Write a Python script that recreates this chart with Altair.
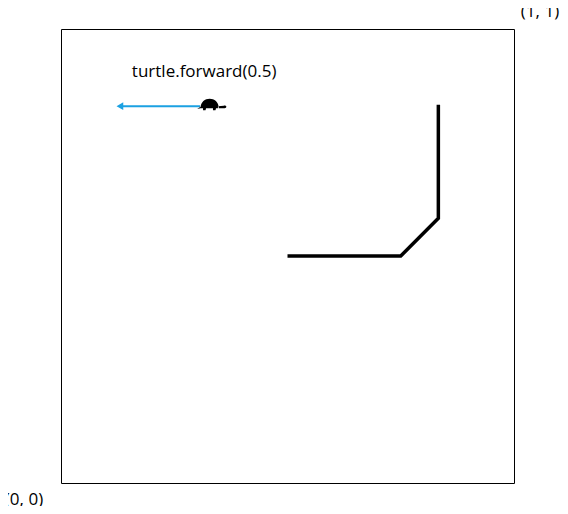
import altair as alt
import pandas as pd

# turtle path in unit coordinates
path_x = [0.5, 0.75, 0.833, 0.833]
path_y = [0.5, 0.5, 0.583, 0.833]

arrow_x = [0.307, 0.13]
arrow_y = [0.83, 0.83]

turtle_x = [0.33]
turtle_y = [0.833]

label_text = ["turtle.forward(0.5)"]
label_x = [0.316]
label_y = [0.905]

corner_text = ["(0, 0)", "(1, 1)"]
corner_x = [0, 1]
corner_y = [0, 1]
corner_dx = [-37, 26]
corner_dy = [17, -17]

FONT = "Open Sans"

sx = alt.Scale(domain=[0, 1])
sy = alt.Scale(domain=[0, 1])
X = lambda f: alt.X(f, scale=sx, axis=None)
Y = lambda f: alt.Y(f, scale=sy, axis=None)

path_df = pd.DataFrame({"x": path_x, "y": path_y, "o": range(len(path_x))})
line = alt.Chart(path_df).mark_line(color="black", strokeWidth=3.5, clip=False).encode(
    x=X("x:Q"), y=Y("y:Q"), order="o:O")

arrow_df = pd.DataFrame({"x": arrow_x, "y": arrow_y})
arrow = alt.Chart(arrow_df).mark_line(color="#1ba1e2", strokeWidth=2).encode(
    x=X("x:Q"), y=Y("y:Q"))
head = alt.Chart(arrow_df.iloc[[1]]).mark_point(
    shape="triangle-left", filled=True, color="#1ba1e2", size=60, opacity=1).encode(
    x=X("x:Q"), y=Y("y:Q"))

turtle_shape = ("M -0.6 0.2 C -0.6 -0.55 0.5 -0.55 0.5 0.2 Z "
                "M 0.45 0.2 L 0.85 0.2 C 1.0 0.2 1.0 0.02 0.8 0.05 L 0.45 0.08 Z "
                "M -0.45 0.15 L -0.25 0.15 L -0.3 0.32 L -0.45 0.32 Z "
                "M 0.15 0.15 L 0.35 0.15 L 0.3 0.32 L 0.15 0.32 Z "
                "M -0.6 0.12 L -0.8 0.25 L -0.6 0.2 Z")
turtle_df = pd.DataFrame({"x": turtle_x, "y": turtle_y})
turtle = alt.Chart(turtle_df).mark_point(
    shape=turtle_shape, filled=True, color="black", size=1100, opacity=1).encode(
    x=X("x:Q"), y=Y("y:Q"))

label_df = pd.DataFrame({"t": label_text, "x": label_x, "y": label_y})
label = alt.Chart(label_df).mark_text(font=FONT, fontSize=17, color="black").encode(
    x=X("x:Q"), y=Y("y:Q"), text="t:N")

corner_df = pd.DataFrame({"t": corner_text, "x": corner_x, "y": corner_y})
corners = alt.layer(*[
    alt.Chart(corner_df.iloc[[i]]).mark_text(
        font=FONT, fontSize=17, color="black",
        dx=corner_dx[i], dy=corner_dy[i]).encode(x=X("x:Q"), y=Y("y:Q"), text="t:N")
    for i in range(len(corner_text))
])

chart = alt.layer(line, arrow, head, turtle, label, corners).properties(
    width=453, height=454,
    autosize=alt.AutoSizeParams(type="none"),
    padding={"left": 53, "top": 21, "right": 46, "bottom": 23},
    background="white",
).configure_view(stroke="black", strokeWidth=1)

chart.save("out.html", embed_options={"renderer": "svg", "actions": False})
